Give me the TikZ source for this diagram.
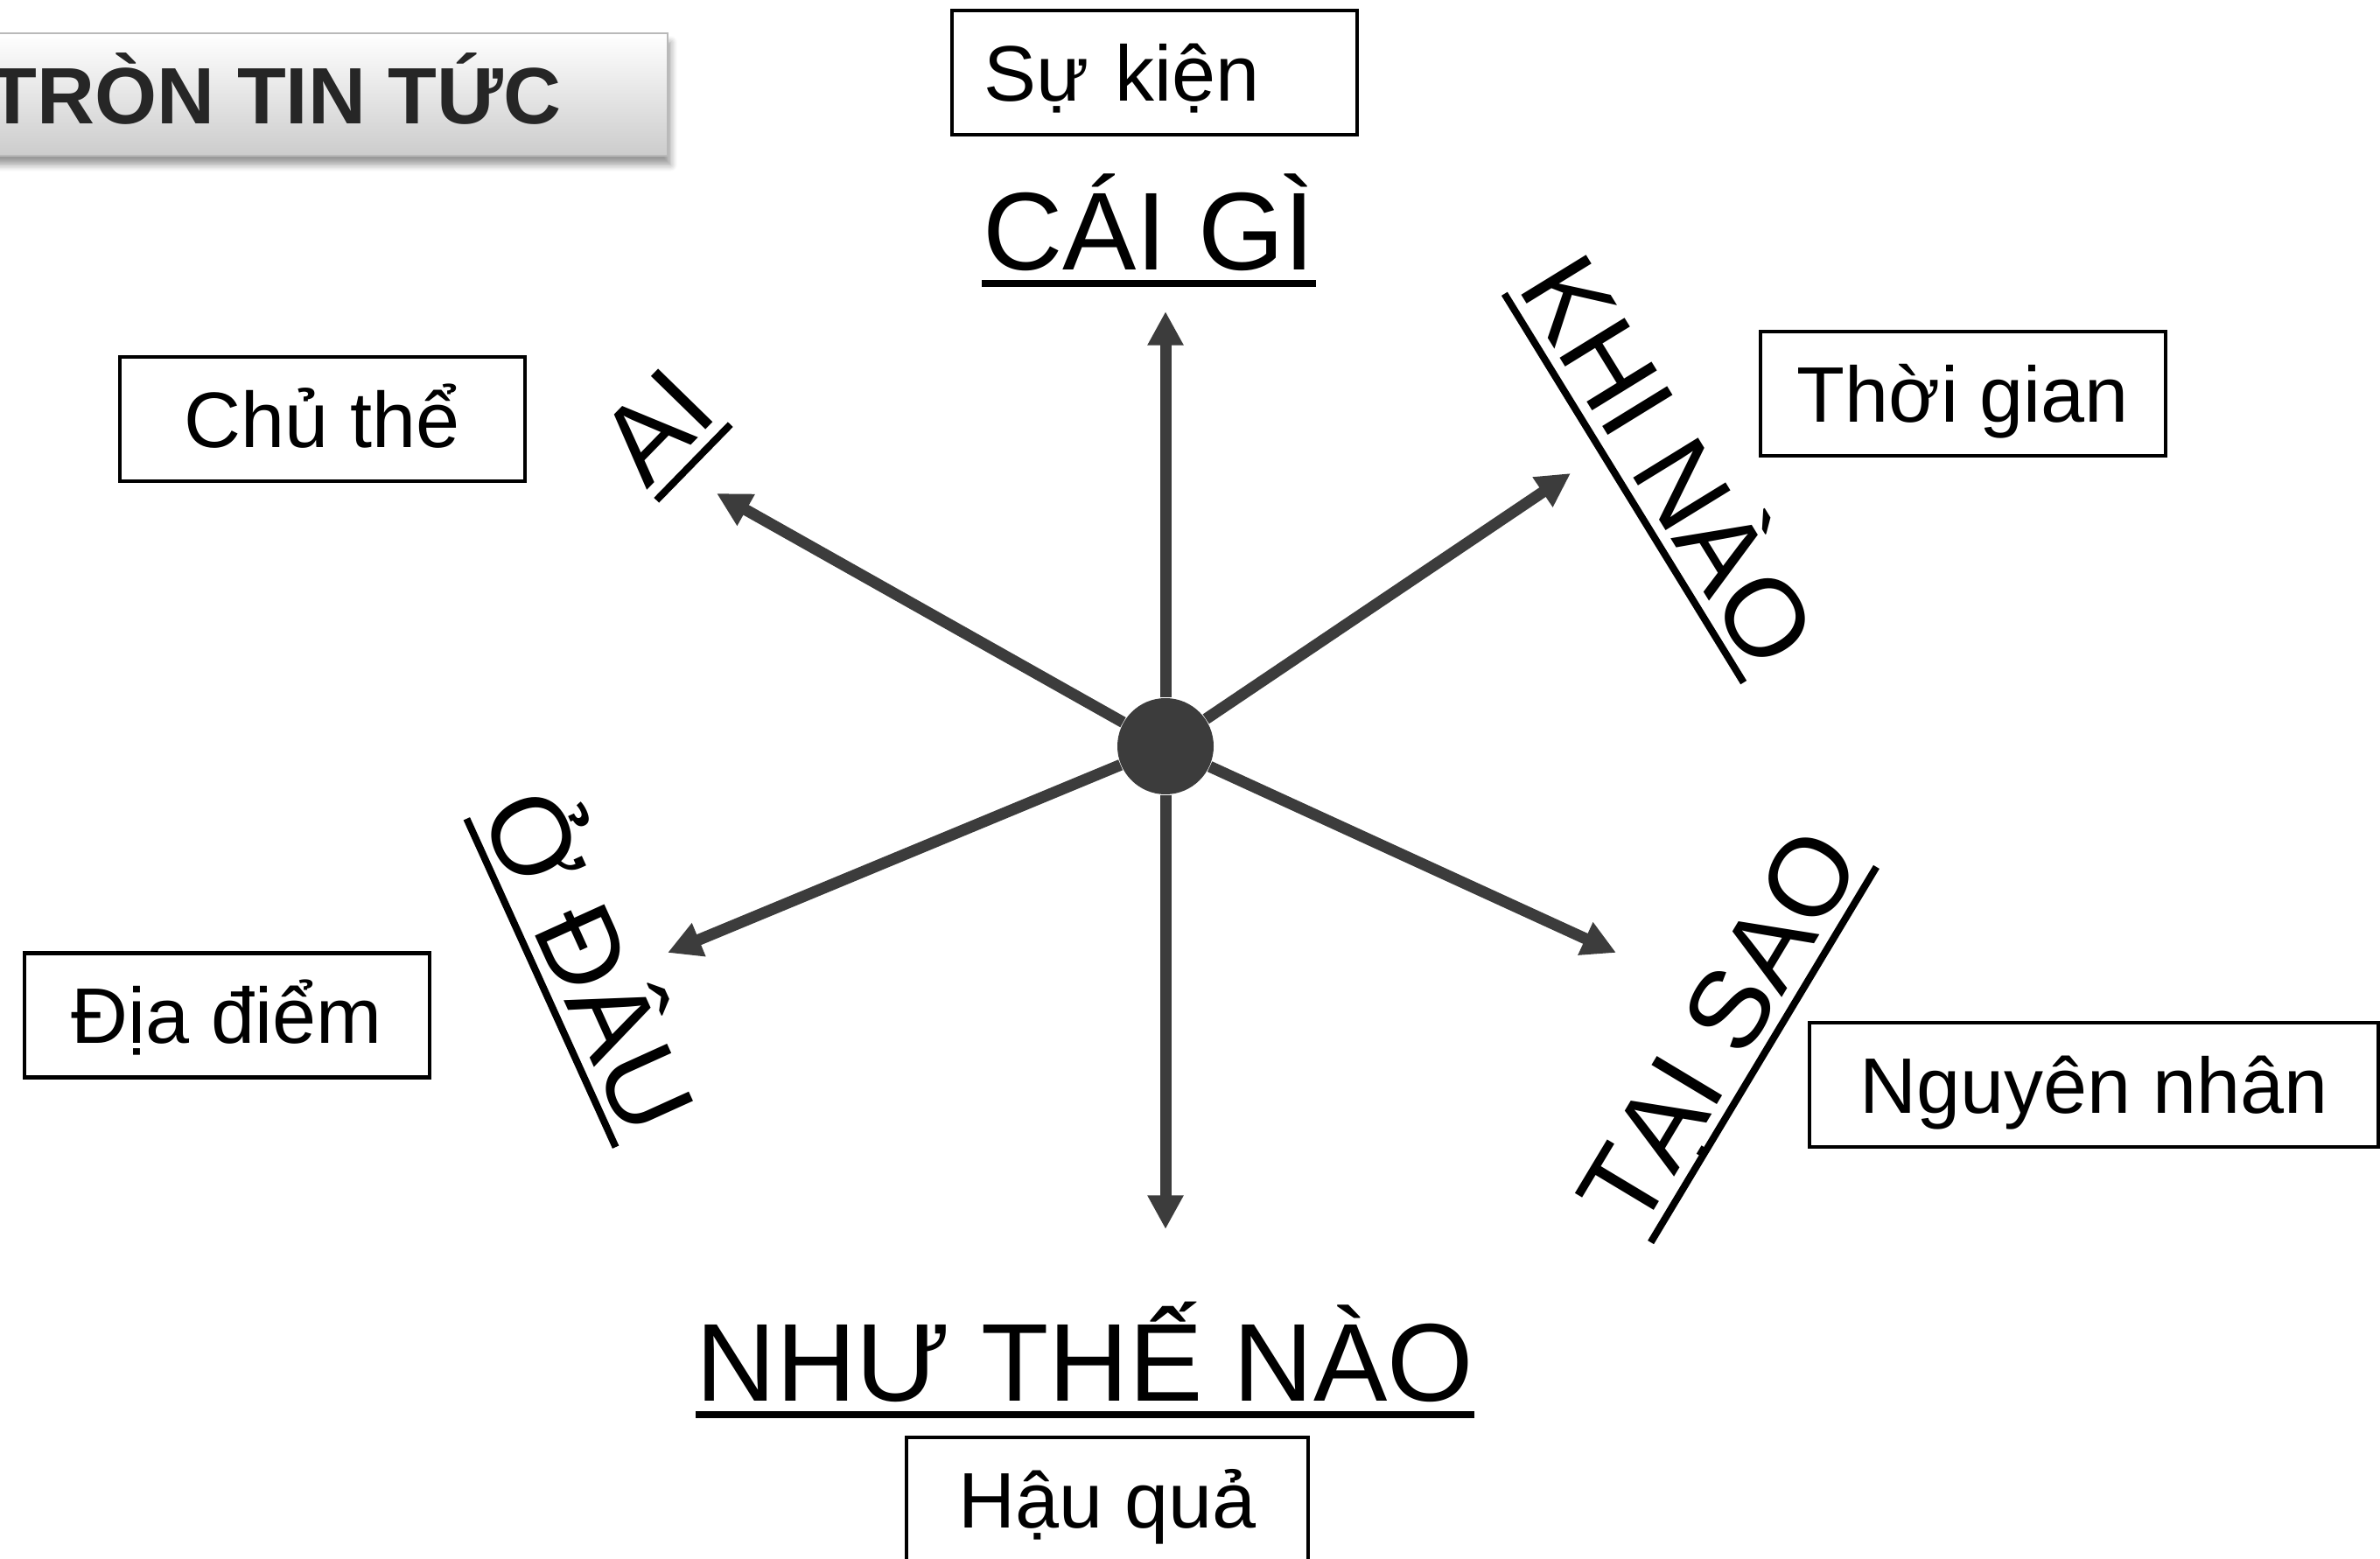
\documentclass[tikz,border=0pt]{standalone}
\usepackage{fontspec}
\setmainfont{Liberation Sans}
\usepackage{xcolor}
\usetikzlibrary{arrows.meta, shadows.blur}

\definecolor{spokegray}{RGB}{60,60,60}
\definecolor{titleink}{RGB}{38,38,38}

\begin{document}
\begin{tikzpicture}[
    >={Triangle[length=11pt,width=11pt]},
    spoke/.style={draw=spokegray, line width=3.7pt, ->},
    qlabel/.style={font=\fontsize{36}{40}\selectfont, inner xsep=0pt,
        inner ysep=0.15cm, text height=25.8pt, text depth=0pt, anchor=south},
    uline/.style={line width=2.3pt},
    infobox/.style={draw, line width=1.2pt, minimum width=4.63cm,
        minimum height=1.42cm, inner sep=0pt,
        font=\fontsize{25.6}{30}\selectfont, text height=18.3pt, text depth=0pt}
]
\useasboundingbox (0,0) rectangle (27.2,17.81);
\clip (0,0) rectangle (27.2,17.81);

% ========== tiêu đề ==========
\fill[top color=white, bottom color=gray!40, draw=gray!55, line width=0.6pt,
      blur shadow={shadow xshift=1pt, shadow yshift=-3pt, shadow blur steps=6}]
    (-0.3,16.03) rectangle (7.63,17.43);
\node[anchor=base east, inner sep=0pt, text=titleink,
      font=\fontsize{26}{30}\selectfont\bfseries] (title) at (6.42,16.39) {TRÒN TIN TỨC};

% ========== tâm và các đầu mũi tên ==========
\node[circle, fill=spokegray, minimum size=1.1cm, inner sep=0pt] (hub) at (13.32,9.28) {};
\coordinate (up) at (13.32,14.25);
\coordinate (dn) at (13.32,3.76);
\coordinate (ul) at (8.19,12.17);
\coordinate (ur) at (17.95,12.40);
\coordinate (ll) at (7.63,6.92);
\coordinate (lr) at (18.47,6.92);

\foreach \tip in {up,dn,ul,ur,ll,lr} {
    \draw[spoke] (hub) -- (\tip);
}

% ========== câu hỏi (gạch chân) ==========
\foreach \x/\y/\ang/\name/\txt in {
    13.13/14.57/0/cai/CÁI GÌ,
    12.40/1.64/0/nhu/NHƯ THẾ NÀO,
    7.925/12.525/45.7/ai/AI,
    18.56/12.23/-58.4/khi/KHI NÀO,
    6.185/6.575/-65.6/odau/Ở ĐÂU,
    20.155/5.755/59/taisao/TẠI SAO} {
    \node[qlabel, rotate=\ang] (\name) at (\x,\y) {\txt};
    \draw[uline] (\name.south west) -- (\name.south east);
}

% ========== các ô ==========
\node[infobox, text width=3.91cm, align=left] (sukien) at (13.195,16.98) {Sự kiện};
\node[infobox] (chuthe) at (3.685,13.02) {Chủ thể};
\node[infobox] (thoigian) at (22.435,13.31) {Thời gian};
\node[infobox] (diadiem) at (2.595,6.205) {Địa điểm};
\node[infobox, minimum width=6.5cm] (nguyennhan) at (23.93,5.41) {Nguyên nhân};
\node[infobox, minimum width=4.59cm] (hauqua) at (12.655,0.67) {Hậu quả};

\end{tikzpicture}
\end{document}
